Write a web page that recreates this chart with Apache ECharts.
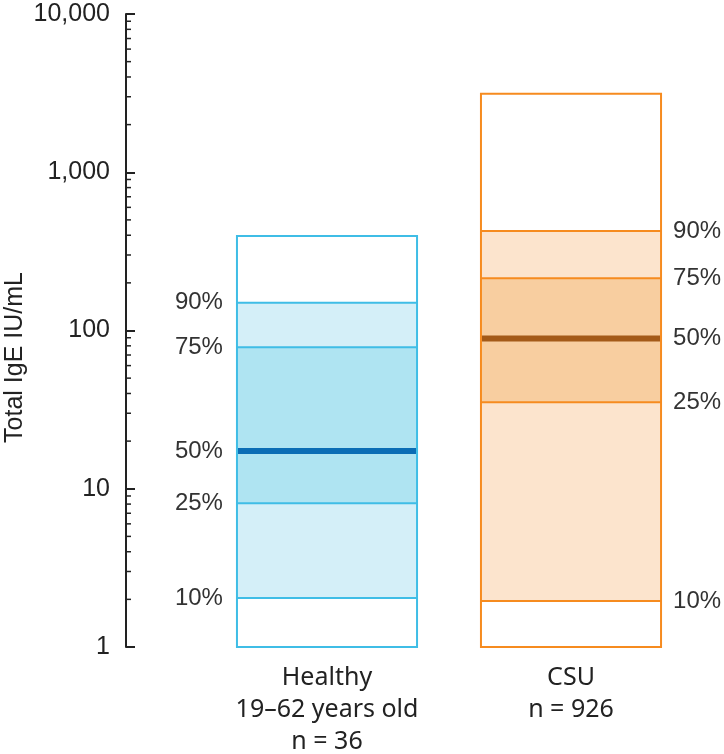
<!DOCTYPE html>
<html><head><meta charset="utf-8">
<script src="https://cdn.jsdelivr.net/npm/echarts@6/dist/echarts.min.js"></script>
<style>html,body{margin:0;padding:0;background:#fff}#c{width:724px;height:754px}</style>
</head><body><div id="c"></div>
<script>
// ---- data ----
const categories = ['Healthy\n19\u201362 years old\nn = 36', 'CSU\nn = 926'];
const minVals = [1, 1];
const p10 = [2.04, 1.95];
const p25 = [8.1, 35.2];
const p50 = [17.3, 89];
const p75 = [78.4, 214];
const p90 = [150, 426];
const maxVals = [396, 3130];
const percentLabels = ['10%', '25%', '50%', '75%', '90%'];
const yTickLabels = ['1', '10', '100', '1,000', '10,000'];
const yTickValues = [1, 10, 100, 1000, 10000];
const minorTickValues = [2,3,4,5,6,7,8,9, 20,30,40,50,60,70,80,90, 200,300,400,500,600,700,800,900, 2000,3000,4000,5000,6000,7000,8000,9000];

// ---- styles ----
const AXIS_OFFSET = 79;
const palette = [
  {border:'#3fbde6', light:'#d4eff8', mid:'#afe4f2', median:'#0b6db5', side:'left'},
  {border:'#f68b1f', light:'#fce4cd', mid:'#f8cea0', median:'#a45a18', side:'right'}
];
const FONT_NUM = '"Liberation Sans", Arial, sans-serif';
const FONT_CAT = '"Noto Sans", sans-serif';

const boxData = categories.map((c, i) => [i, minVals[i], p10[i], p25[i], p50[i], p75[i], p90[i], maxVals[i]]);

const chart = echarts.init(document.getElementById('c'), null, {renderer: 'canvas'});
chart.setOption({
  animation: false,
  backgroundColor: '#fff',
  grid: {left: 205, right: 31, top: 14, bottom: 107, containLabel: false, outerBoundsMode: 'none'},
  xAxis: {
    type: 'category', data: categories,
    axisLine: {show: false}, axisTick: {show: false},
    axisLabel: {color: '#222', fontSize: 25, lineHeight: 32, margin: 15, fontFamily: FONT_CAT}
  },
  yAxis: {
    type: 'log', logBase: 10, min: 1, max: 10000, interval: 1,
    offset: AXIS_OFFSET,
    name: 'Total IgE IU/mL', nameLocation: 'middle', nameGap: 98, nameRotate: 90,
    nameMoveOverlap: false,
    nameTextStyle: {color: '#222', fontSize: 25, fontFamily: FONT_NUM, padding: [0, 54, 0, 0]},
    axisLine: {show: true, lineStyle: {color: '#222', width: 2}},
    axisTick: {show: true, inside: true, length: 9, lineStyle: {color: '#222', width: 2}},
    axisLabel: {color: '#222', fontSize: 25, margin: 16, fontFamily: FONT_NUM,
      formatter: v => { const k = yTickValues.findIndex(t => Math.abs(t - v) < 1e-6 * t); return k >= 0 ? yTickLabels[k] : ''; }},
    splitLine: {show: false}
  },
  series: [
    {
      type: 'custom', clip: false,
      data: minorTickValues.map(v => [0, v]),
      encode: {x: 0, y: 1},
      renderItem: (params, api) => {
        const p = api.coord([0, api.value(1)]);
        const ax = p[0] - api.size([1, 0])[0] / 2 - AXIS_OFFSET;
        return {type: 'line', shape: {x1: ax, y1: p[1], x2: ax + 5, y2: p[1]}, style: {stroke: '#222', lineWidth: 1.5}};
      }
    },
    {
      type: 'custom', clip: false,
      data: boxData,
      encode: {x: 0, y: [1,2,3,4,5,6,7]},
      renderItem: (params, api) => {
        const ci = api.value(0);
        const st = palette[ci];
        const cx = api.coord([ci, 1])[0];
        const bw = api.size([1, 0])[0] * 0.738;
        const x0 = cx - bw / 2, x1 = cx + bw / 2;
        const Y = v => api.coord([ci, v])[1];
        const vMin = api.value(1), v10 = api.value(2), v25 = api.value(3), v50 = api.value(4),
              v75 = api.value(5), v90 = api.value(6), vMax = api.value(7);
        const children = [];
        children.push({type: 'rect', shape: {x: x0, y: Y(vMax), width: bw, height: Y(vMin) - Y(vMax)}, style: {fill: '#fff'}});
        children.push({type: 'rect', shape: {x: x0, y: Y(v90), width: bw, height: Y(v10) - Y(v90)}, style: {fill: st.light}});
        children.push({type: 'rect', shape: {x: x0, y: Y(v75), width: bw, height: Y(v25) - Y(v75)}, style: {fill: st.mid}});
        [v10, v25, v75, v90].forEach(v => {
          children.push({type: 'line', shape: {x1: x0, y1: Y(v), x2: x1, y2: Y(v)}, style: {stroke: st.border, lineWidth: 2}});
        });
        children.push({type: 'line', shape: {x1: x0 + 1, y1: Y(v50), x2: x1 - 1, y2: Y(v50)}, style: {stroke: st.median, lineWidth: 6}});
        children.push({type: 'rect', shape: {x: x0, y: Y(vMax), width: bw, height: Y(vMin) - Y(vMax)}, style: {fill: null, stroke: st.border, lineWidth: 2}});
        [v10, v25, v50, v75, v90].forEach((v, k) => {
          const left = st.side === 'left';
          children.push({type: 'text', x: left ? x0 - 14 : x1 + 12, y: Y(v),
            style: {text: percentLabels[k], fill: '#333', fontSize: 24, fontFamily: FONT_NUM,
              align: left ? 'right' : 'left', verticalAlign: 'middle'}});
        });
        return {type: 'group', children};
      }
    }
  ]
});
</script>
</body></html>
